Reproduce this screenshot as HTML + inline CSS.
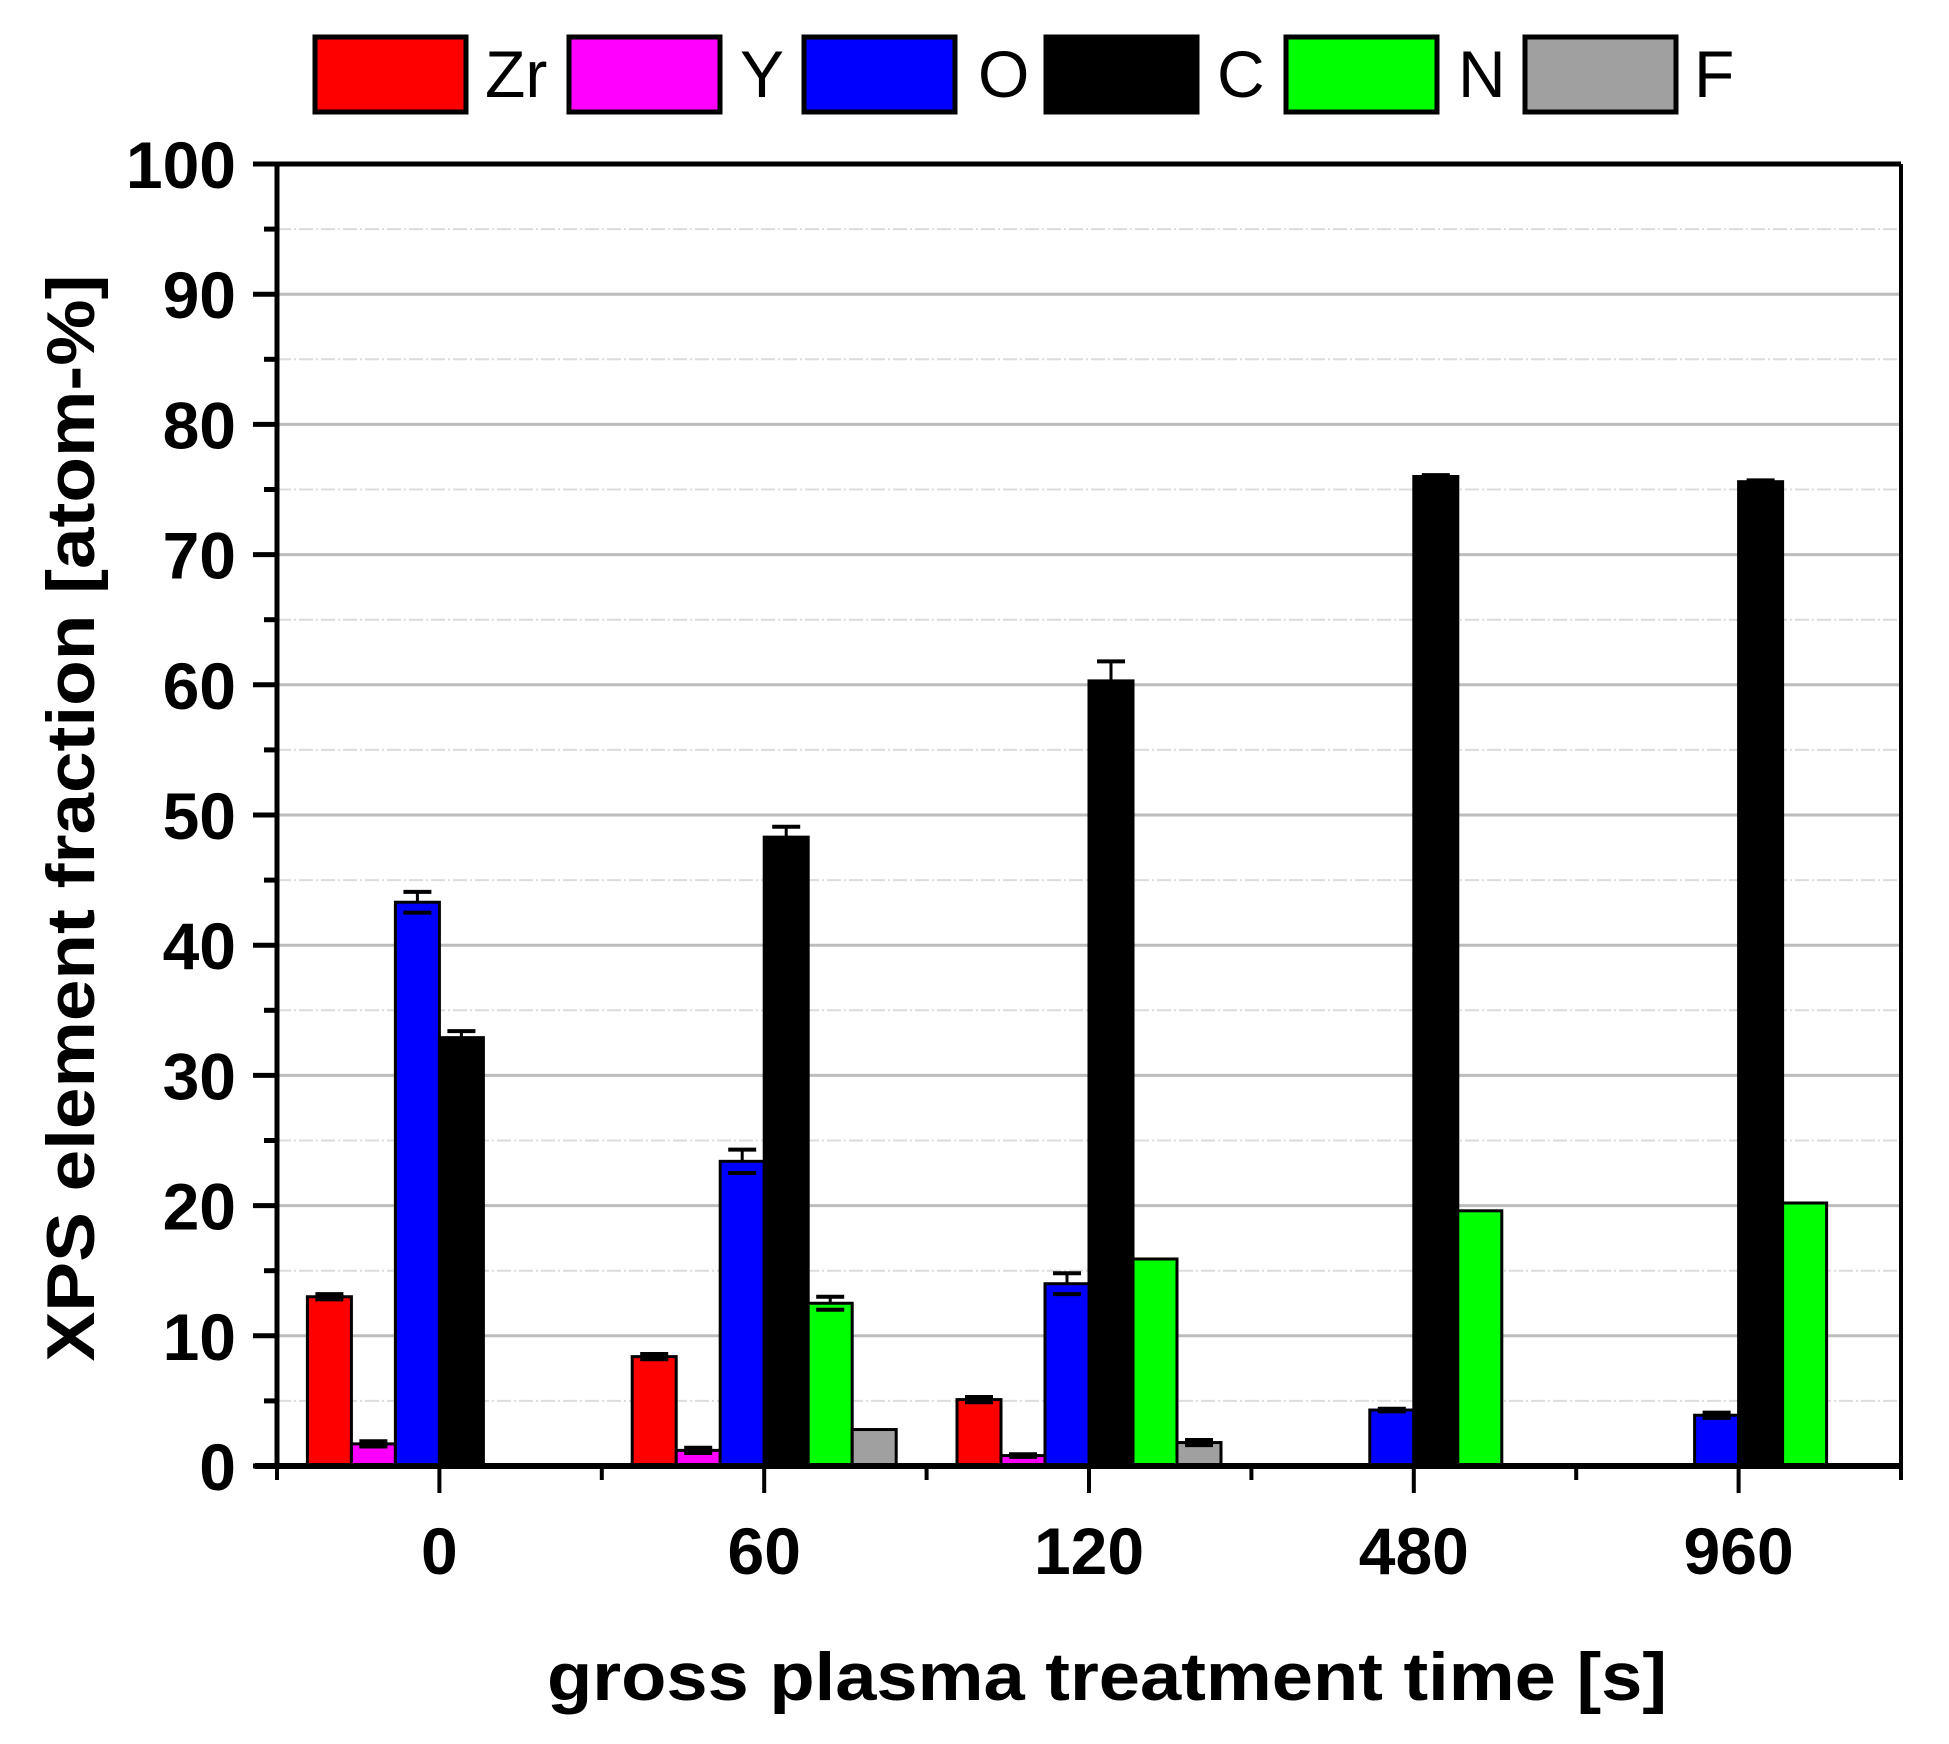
<!DOCTYPE html>
<html><head><meta charset="utf-8"><style>html,body{margin:0;padding:0;background:#fff}svg{display:block}</style></head>
<body>
<svg width="1949" height="1744" viewBox="0 0 1949 1744" xmlns="http://www.w3.org/2000/svg" font-family="Liberation Sans, Arial, sans-serif">
<rect width="1949" height="1744" fill="#fff"/>
<g id="grid"></g>
<g id="bars"></g>
<g id="axes"></g>
<g id="legend"></g>
<script>
const NS="http://www.w3.org/2000/svg";
function el(p,t,a,txt){const e=document.createElementNS(NS,t);for(const k in a)e.setAttribute(k,a[k]);if(txt!==undefined)e.textContent=txt;document.getElementById(p).appendChild(e);return e;}
const L=277,R=1901,T=164,B=1466,S=13.02;
const y=v=>B-v*S;
for(let v=5;v<100;v+=5){
  if(v%10==0) el('grid','line',{x1:L,x2:R,y1:y(v),y2:y(v),stroke:'#bdbdbd','stroke-width':3});
  else el('grid','line',{x1:L,x2:R,y1:y(v),y2:y(v),stroke:'#dcdcdc','stroke-width':2,'stroke-dasharray':'14 3 2 3'});
}
const SP=(R-L)/5;
const centers=[0,1,2,3,4].map(i=>L+SP*(i+0.5));
const cols=['#ff0000','#ff00ff','#0000ff','#000000','#00ff00','#a0a0a0'];
const data=[
 [[13,0.2],[1.7,0.2],[43.3,0.8],[32.9,0.5],null,null],
 [[8.4,0.2],[1.2,0.2],[23.4,0.9],[48.3,0.8],[12.5,0.5],[2.8,0]],
 [[5.1,0.2],[0.8,0.1],[14,0.8],[60.3,1.5],[15.9,0],[1.8,0.2]],
 [null,null,[4.3,0.1],[76,0.1],[19.6,0],null],
 [null,null,[3.9,0.2],[75.6,0.1],[20.2,0],null]];
const W=44;
data.forEach((g,i)=>{g.forEach((d,k)=>{if(!d)return;const x=centers[i]-3*W+k*W;
  el('bars','rect',{x:x,y:y(d[0]),width:W,height:d[0]*S,fill:cols[k],stroke:'#000','stroke-width':3});
  if(d[1]>0){const cx=x+W/2;el('bars','line',{x1:cx,x2:cx,y1:y(d[0]),y2:y(d[0]+d[1]),stroke:'#000','stroke-width':3});
  el('bars','line',{x1:cx-14,x2:cx+14,y1:y(d[0]+d[1]),y2:y(d[0]+d[1]),stroke:'#000','stroke-width':4});
  el('bars','line',{x1:cx-14,x2:cx+14,y1:y(d[0]-d[1]),y2:y(d[0]-d[1]),stroke:'#000','stroke-width':4});}
});});
el('axes','line',{x1:L,x2:R,y1:T,y2:T,stroke:'#000','stroke-width':5});
el('axes','line',{x1:R,x2:R,y1:T,y2:B,stroke:'#000','stroke-width':4});
el('axes','line',{x1:L,x2:L,y1:T-2,y2:B+3,stroke:'#000','stroke-width':5});
el('axes','line',{x1:L-22,x2:R,y1:B,y2:B,stroke:'#000','stroke-width':6});
for(let v=0;v<=100;v+=5){const maj=v%10==0;el('axes','line',{x1:maj?L-24:L-13,x2:L,y1:y(v),y2:y(v),stroke:'#000','stroke-width':5});
 if(maj)el('axes','text',{x:236,y:y(v)+24,'text-anchor':'end','font-size':66,'font-weight':'bold'},String(v));}
for(let i=0;i<=5;i++){const x=L+i*SP;el('axes','line',{x1:x,x2:x,y1:B,y2:B+14,stroke:'#000','stroke-width':4});}
const labs=['0','60','120','480','960'];
centers.forEach((c,i)=>{el('axes','line',{x1:c,x2:c,y1:B,y2:B+27,stroke:'#000','stroke-width':4});
 el('axes','text',{x:c,y:1574,'text-anchor':'middle','font-size':66,'font-weight':'bold'},labs[i]);});
el('axes','text',{x:1107,y:1700,'text-anchor':'middle','font-size':68,'font-weight':'bold',textLength:1120,lengthAdjust:'spacingAndGlyphs'},'gross plasma treatment time [s]');
el('axes','text',{x:0,y:0,'text-anchor':'middle','font-size':68,'font-weight':'bold',textLength:1087,lengthAdjust:'spacingAndGlyphs',transform:'translate(94,818) rotate(-90)'},'XPS element fraction [atom-%]');
const leg=[[315,'Zr',485],[569,'Y',740],[804,'O',978],[1046,'C',1217],[1286,'N',1458],[1525,'F',1694]];
leg.forEach((l,k)=>{el('legend','rect',{x:l[0],y:37,width:151,height:75,fill:cols[k],stroke:'#000','stroke-width':5});
 el('legend','text',{x:l[2],y:97,'font-size':66},l[1]);});
</script>
</svg>
</body></html>
